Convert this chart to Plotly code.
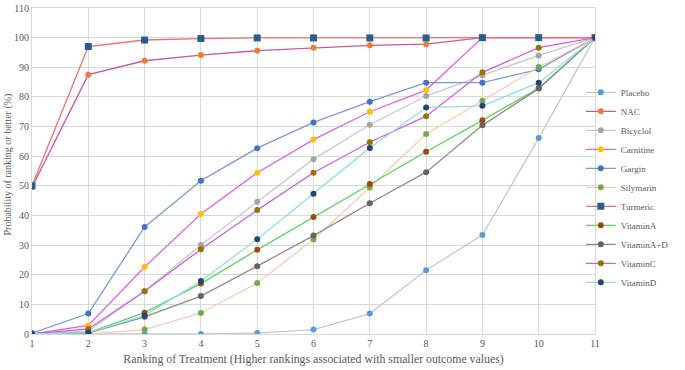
import plotly.graph_objects as go

ranks = [1, 2, 3, 4, 5, 6, 7, 8, 9, 10, 11]
x_ticks = [str(r) for r in ranks]

placebo = [0, 0, 0, 0, 0.3, 1.5, 6.9, 21.5, 33.4, 66.1, 100]
nac = [49.5, 87.5, 92.2, 94.1, 95.6, 96.6, 97.4, 97.8, 100, 100, 100]
bicyclol = [0, 1.0, 14.4, 30.0, 44.6, 59.0, 70.6, 80.3, 87.3, 94.0, 100]
carnitine = [0, 2.9, 22.6, 40.5, 54.4, 65.6, 75.0, 82.3, 100, 100, 100]
gargin = [0.3, 6.9, 36.1, 51.7, 62.7, 71.4, 78.4, 84.8, 84.8, 89.3, 100]
silymarin = [0, 0, 1.5, 7.1, 17.2, 31.9, 49.4, 67.5, 78.7, 90.1, 100]
turmeric = [50.0, 97.0, 99.2, 99.7, 99.9, 99.9, 99.9, 99.9, 100, 100, 100]
vitamin_a = [0, 0.5, 7.2, 17.0, 28.4, 39.5, 50.6, 61.5, 72.1, 83.0, 100]
vitamin_ad = [0, 0.3, 5.8, 12.8, 22.9, 33.2, 44.1, 54.6, 70.4, 82.8, 100]
vitamin_c = [0, 1.7, 14.4, 28.6, 41.8, 54.4, 64.7, 73.5, 88.3, 96.6, 100]
vitamin_d = [0, 0.5, 6.2, 17.9, 32.0, 47.3, 62.8, 76.4, 77.0, 84.8, 100]

series = [
    ("Placebo", placebo, "#C8C8C8", "#5B9BD5", "circle"),
    ("NAC", nac, "#C9589E", "#ED7D31", "circle"),
    ("Bicyclol", bicyclol, "#C8C8C8", "#A5A5A5", "circle"),
    ("Carnitine", carnitine, "#E060E8", "#FFC000", "circle"),
    ("Gargin", gargin, "#7C9AD2", "#4472C4", "circle"),
    ("Silymarin", silymarin, "#F8CBAD", "#70AD47", "circle"),
    ("Turmeric", turmeric, "#EE6E6E", "#255E91", "square"),
    ("VitaminA", vitamin_a, "#5FD35F", "#9E480E", "circle"),
    ("VitaminA+D", vitamin_ad, "#8C8C8C", "#636363", "circle"),
    ("VitaminC", vitamin_c, "#CC5FE0", "#997300", "circle"),
    ("VitaminD", vitamin_d, "#8EE0E0", "#264478", "circle"),
]

fig = go.Figure()
for name, vals, lc, mc, sym in series:
    fig.add_trace(go.Scatter(
        x=ranks, y=vals, name=name, mode="lines+markers",
        line=dict(color=lc, width=1.3),
        marker=dict(color=mc, size=7 if sym == "square" else 6, symbol=sym),
    ))

ff = "Liberation Serif"
txt = "#595959"
fig.update_layout(
    width=685, height=370,
    margin=dict(l=32, r=90, t=8, b=36),
    paper_bgcolor="white", plot_bgcolor="white",
    font=dict(family=ff, size=10, color=txt),
    showlegend=True,
    legend=dict(x=1.14, y=0.45, yanchor="middle", xanchor="right",
                font=dict(family=ff, size=9, color=txt), itemwidth=30,
                bgcolor="rgba(0,0,0,0)"),
    xaxis=dict(
        range=[1, 11], tickvals=ranks, ticktext=x_ticks,
        showgrid=True, gridcolor="#D9D9D9", gridwidth=1,
        showline=True, linecolor="#D9D9D9", mirror=True, automargin=False,
        zeroline=False, ticks="", tickfont=dict(family=ff, size=10, color=txt),
        title=dict(text="Ranking of Treatment (Higher rankings associated with smaller outcome values)",
                   font=dict(family=ff, size=11.8, color=txt), standoff=6),
    ),
    yaxis=dict(
        range=[0, 110], dtick=10,
        showgrid=True, gridcolor="#D9D9D9", gridwidth=1,
        showline=True, linecolor="#D9D9D9", mirror=True, automargin=False,
        zeroline=False, ticks="", tickfont=dict(family=ff, size=10, color=txt),
    ),
    annotations=[dict(
        text="Probability of ranking or better (%)", textangle=-90,
        xref="paper", yref="paper", x=-0.0426, y=0.52,
        xanchor="center", yanchor="middle", showarrow=False,
        font=dict(family=ff, size=10, color=txt),
    )],
)

fig.write_html("out.html", config={"displayModeBar": False},
               post_script="document.body.style.margin='0';document.body.style.overflow='hidden';")
